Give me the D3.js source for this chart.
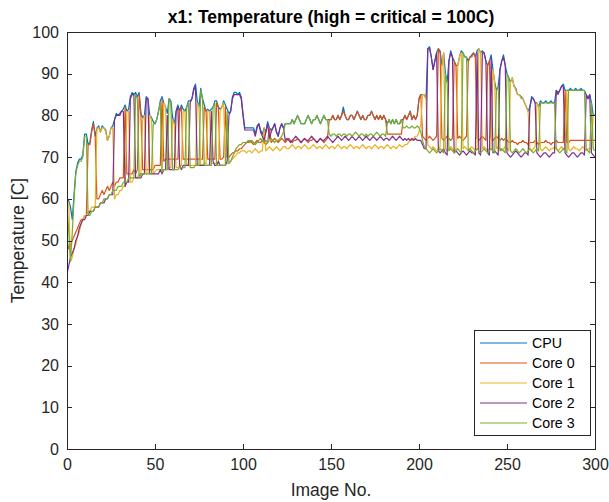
<!DOCTYPE html>
<html>
<head>
<meta charset="utf-8">
<script src="https://cdn.jsdelivr.net/npm/d3@7"></script>
<style>
  html, body { margin: 0; padding: 0; background: #fff; }
  svg { display: block; font-family: 'Liberation Sans', Arial, Helvetica, sans-serif; }
</style>
</head>
<body>
<svg id="chart" width="609" height="502"></svg>
<script>
// one reading per image, images 0..300
const imageNo = d3.range(0, 301);

const cpu = [
  60,59.5,58,55,61,66.5,68.5,69.5,69.5,70.5,
  75.5,75.5,73,73.5,76.5,78.5,75,77,77.5,76,
  77.5,77,76.5,74,75,77,77.5,79,80.5,80,
  80.5,81,81.5,82.5,81,81.5,84.5,85.5,85,85.5,
  84.5,85.5,80.5,79.5,80,84.5,84,80,79.5,78.5,
  78,79,81,83.5,84.5,83,82,80.5,84,83.5,
  79.5,78,81,82.5,81,82.5,81.5,81,82,83.5,
  83.5,84,86.5,87.5,83.5,82,86.5,84,82.5,81,
  81.5,81,81.5,82,83.5,83.5,82,81.5,82,83.5,
  82.5,81.5,80.5,81,84.5,85.5,85.5,85,85.5,84.5,
  80.5,77,77,77,77,77,77,75.5,77.5,78,
  76.5,75.5,77,76,78.5,77,76.5,77,78,76,
  75,77,78,77,78,78,78,78,79,78,
  79,80,79,78,78,78,79,80,79,78,
  79,79,80,79,78,79,80,79,79,79,
  79,80,79,79,80,79,80,82,80,79,
  79,80,80,79,80,81,80,79,80,79,
  79,80,80,81,80,79,80,79,80,79,
  80,79,78,79,78,79,78,79,78,78,
  79,79,80,79,80,81,79,80,79,80,
  84,85,85,85,84,96,96.5,94,91,93,
  95,96,95.5,92,95,90,88,93,95.5,94,
  93,92,92,94,95.5,95,94,94,93,94,
  94.5,95,94,95.5,96,95,95.5,95,93,92,
  93,94.5,91,88,86,87,91,93,94.5,92,
  90,89,88,89,87,86.5,85,85,84.5,84,
  83,82,81,82,84.5,84,83,83,82,83.5,
  83,83,83.5,83,83,83.5,83,83,86,85.5,
  86,87,87.5,86,86,86,86.5,86,86,86.5,
  86,86,86.5,86,86,85,84,85,83,80,
  80
];

const core0 = [
  50,48,49,50,51,52,53,54,55,55,
  56,56,73,73,76,78,75,60,60,61,
  62,61,62,63,62,63,64,63,64,64,
  65,65,65,82,66,66,66,66,67,66,
  67,85,80,67,67,67,67,67,67,67,
  68,68,68,68,84,69,69.5,69.5,69.5,69.5,
  69.5,69.5,69.5,69.5,81,82,69.5,69.5,69.5,69.5,
  69.5,69.5,69.5,69.5,69.5,69.5,69.5,69.5,82,81,
  69.5,69.5,69.5,69.5,69.5,83,82,69.5,69.5,70,
  82,70,70,70.5,71,71,71.5,71.5,72,72,
  72.5,73,73.5,73.5,74,73.5,73,73.5,74,73.5,
  73.5,74,73.5,73,73.5,77,73.5,74,74.5,74,
  73.5,74,74.5,74,73.5,74,74.5,74,73.5,74,
  74,74.5,74,73.5,74,74.5,74,73.5,74,74,
  74.5,74,73.5,74,74.5,74,73.5,74,74.5,79,
  79,80,79,79,80,79,80,81,80,79,
  79,80,80,79,80,81,80,79,80,79,
  79,80,80,81,80,79,80,79,80,79,
  80,79,75.5,75.5,75.5,75.5,75.5,75.5,75.5,75.5,
  75.5,79,80,79,80,81,79,80,79,80,
  84,85,75,74.5,74,74.5,75,74.5,74,74.5,
  75,96,95,74.5,74,74.5,75,74.5,74,74.5,
  93,92,74.5,75,74.5,74,74.5,75,93,94,
  94,95,94,74.5,74,74.5,75,74.5,74,92,
  93,74.5,74,74.5,75,74.5,74,74.5,74,74.5,
  74,73.5,73.5,74,73.5,73.5,73,73.5,73.5,74,
  73.5,73.5,73,73.5,73.5,73.5,74,73.5,73,73.5,
  73.5,73.5,74,73.5,73.5,73,73.5,73.5,74,73.5,
  73.5,73.5,73.5,86,73.5,73.5,74,74,74,74,
  74,74,74,74,74,74,74,74,74,74,
  74
];

const core1 = [
  59,59,45,46,48,49,51,52,54,55,
  56,56,57,57,58,58,58,77,77,76,
  77,77,76,74,75,77,77,60,61,61,
  62,62,63,63,81,81,64,64,65,65,
  65,66,66,79,80,66,66,80,79,66,
  66.5,67,67,67,67,83,82,67,67.5,67.5,
  79,78,67.5,67.5,68,68,81,81,68,68,
  68,68,68,68,83,82,68,68,68.5,68.5,
  81,81,68.5,68.5,68.5,68.5,68.5,81,82,83,
  68.5,68.5,68.5,69,69.5,70,70.5,71,71,71.5,
  71.5,71.5,71,71.5,71.5,71,71.5,72,71.5,71,
  71.5,71.5,77,71.5,72,72.5,72,71.5,72,72.5,
  72,71.5,72,72.5,72.5,72,72,72.5,73,72.5,
  72,72.5,72.5,72,72.5,73,72.5,72,72,72.5,
  73,72.5,72,72.5,72.5,72,72.5,73,72.5,72,
  72.5,72.5,72,72.5,73,72.5,72,72.5,72.5,72,
  72.5,73,72.5,72,72.5,72.5,72,72.5,73,72.5,
  72,72.5,72.5,72,72.5,73,72.5,72,72.5,72.5,
  72,72.5,73,72.5,72,72.5,72.5,72,72.5,73,
  72.5,72.5,73,73,73.5,74,74,74.5,75,75,
  76,78,85,85,84,73,72.5,72,72.5,72,
  71.5,72,72.5,92,95,72,71.5,72,72.5,72,
  71.5,72,92,94,95,72,72.5,72,71.5,72,
  72.5,72,71.5,72,96,95,72,72.5,72,71.5,
  72,72,91,88,72,72.5,72,71.5,72,72.5,
  72,71.5,88,89,87,86,85,85,84,84,
  83,82,81,72,71.5,72,72.5,83,82,72,
  71.5,72,72.5,72,71.5,72,72,72.5,72,71.5,
  72,72.5,72,72,86,72,71.5,72,72.5,72,
  72,71.5,72,72.5,72,71.5,72,72,72,80,
  80
];

const core2 = [
  42,44,46,47,48,50,51,53,54,55,
  55,56,56,57,57,57,58,58,58,59,
  59,59,60,60,61,61,61,79,80,80,
  80,81,81,63,64,64,84,85,85,65,
  65,65,65,66,66,84,84,66,66,66,
  66,66,66,67,66,67,67,80,67,67,
  67,67,81,82,68,67,68,68,68,68,
  83,84,86,87,68,68,68,68,68,68,
  68,68,81,69,68,68,69,68,68,68,
  68,69,80,81,84,85,85,85,85,84,
  80,76.5,76.5,76.5,76.5,76.5,76.5,75,77,78,
  76,75,74,76,78,74.5,76,77,78,76,
  75,77,78,77,74,74.5,74,73.5,74,74.5,
  75,74.5,74,73.5,74,74.5,74,74,74.5,75,
  74.5,74,73.5,74,74.5,74,74,74.5,75,74.5,
  74,73.5,74,74.5,75,74.5,74,74.5,75,74.5,
  74,74.5,75,74.5,74,74.5,75,74.5,74,74.5,
  75,74.5,74,74.5,75,74.5,74,74.5,75,74.5,
  74,74.5,74.5,74,74.5,75,74.5,74,74.5,75,
  74.5,74,74.5,74,74.5,74,74.5,74,74.5,74,
  74,74,73,72,72,96,96,94,91,93,
  95,71.5,71,71.5,72,71,70.5,93,95,94,
  71,71.5,71,70.5,71,71.5,71,70.5,71,71.5,
  71,71,70.5,95,71,70.5,95,95,93,71,
  70.5,94,71,71.5,71,70.5,91,93,94,92,
  71,70.5,70,70.5,71,71.5,71,70.5,70,70.5,
  71,71,70.5,82,84,84,83,71,70.5,70,
  70.5,71,71,70.5,70,70.5,71,71,86,85,
  86,87,87,71,70.5,70,70.5,71,71,70.5,
  70,70.5,71,71,70.5,85,84,85,71,70.5,
  70
];

const core3 = [
  58,52,45,52,60,66,68,69,69,70,
  75,75,56,56,57,57,58,58,58,59,
  59,60,60,60,61,61,62,62,62,63,
  63,63,64,64,64,65,65,65,65,85,
  84,65,66,66,66,66,66,66,66,78,
  78,79,81,83,66.5,67,67,67,84,83,
  67,67,67,67,67.5,67.5,67.5,67.5,82,83,
  67.5,67.5,67.5,68,68,68,86,84,68,68,
  68,68,68,82,83,68,68,68,68,68,
  68,81,68.5,69,70,71,72,72.5,73,73,
  73.5,73.5,73.5,74,73.5,74,73.5,73,73.5,74,
  74.5,74,73.5,74,73.5,74,74.5,74,73.5,74,
  74,74.5,75,76,78,78,78,78,79,78,
  79,80,79,78,78,78,79,80,79,78,
  79,79,80,79,78,79,80,79,79,75.5,
  75,75.5,75.5,75,75.5,75.5,75,75.5,75.5,75,
  75.5,75.5,75,75.5,76,75.5,75,75.5,75.5,75,
  75.5,75,75.5,75.5,75,75.5,76,75.5,75,75.5,
  75.5,75,78,79,78,79,78,79,78,78,
  79,77,77,77.5,77,77,77.5,77,77,77.5,
  77,76,74,72.5,72,71.5,71,71.5,72,71.5,
  71,71.5,72,71.5,71,90,88,71.5,72,71.5,
  71,71.5,72,71.5,71,95,94,94,71.5,72,
  71.5,71,71.5,72,71.5,71,71.5,72,71.5,71,
  71.5,72,71.5,71,86,87,71.5,72,71.5,71,
  90,89,71.5,71,71.5,72,71.5,71,71.5,72,
  71.5,71,71.5,72,71.5,71,71.5,72,71.5,83,
  83,83,83,83,83,83,83,83,72,71.5,
  71,71.5,72,71.5,71,86,86,86,86,86,
  86,86,86,86,86,72,71.5,71,83,72,
  71.5
];

const seriesNames = ['CPU', 'Core 0', 'Core 1', 'Core 2', 'Core 3'];
const seriesColors = ['#0072BD', '#D95319', '#EDB120', '#7E2F8E', '#77AC30'];
const xTicks = [0, 50, 100, 150, 200, 250, 300];
const yTicks = [0, 10, 20, 30, 40, 50, 60, 70, 80, 90, 100];

const W = 609, H = 502;
const box = { left: 67, right: 595, top: 32, bottom: 449 };
const axisColor = '#262626';

const x = d3.scaleLinear().domain([0, 300]).range([box.left, box.right]);
const y = d3.scaleLinear().domain([0, 100]).range([box.bottom, box.top]);

const svg = d3.select('#chart');
svg.append('rect').attr('width', W).attr('height', H).attr('fill', '#fff');

svg.append('clipPath').attr('id', 'plot-clip')
  .append('rect')
    .attr('x', box.left).attr('y', box.top)
    .attr('width', box.right - box.left).attr('height', box.bottom - box.top);

const line = d3.line()
  .x((d, i) => x(imageNo[i]))
  .y(d => y(d));

const series = [cpu, core0, core1, core2, core3];

svg.append('g')
    .attr('clip-path', 'url(#plot-clip)')
  .selectAll('path')
  .data(series)
  .join('path')
    .attr('fill', 'none')
    .attr('stroke', (d, i) => seriesColors[i])
    .attr('stroke-width', 1.2)
    .attr('stroke-linejoin', 'round')
    .attr('d', line);

// MATLAB-style box: ticks point inwards on all four sides
function styleAxis(g, labels) {
  g.attr('font-family', null).attr('font-size', null);
  g.select('.domain')
    .attr('stroke', axisColor)
    .attr('stroke-width', 1)
    .attr('shape-rendering', 'crispEdges');
  g.selectAll('.tick line')
    .attr('stroke', axisColor)
    .attr('shape-rendering', 'crispEdges');
  g.selectAll('.tick text')
    .attr('fill', axisColor)
    .attr('font-size', '16px')
    .style('display', labels ? null : 'none');
}

svg.append('g')
  .attr('transform', `translate(0,${box.bottom})`)
  .call(d3.axisBottom(x).tickValues(xTicks).tickSizeInner(-5).tickSizeOuter(0).tickPadding(10))
  .call(g => styleAxis(g, true));

svg.append('g')
  .attr('transform', `translate(0,${box.top})`)
  .call(d3.axisTop(x).tickValues(xTicks).tickSizeInner(-5).tickSizeOuter(0))
  .call(g => styleAxis(g, false));

svg.append('g')
  .attr('transform', `translate(${box.left},0)`)
  .call(d3.axisLeft(y).tickValues(yTicks).tickSizeInner(-5).tickSizeOuter(0).tickPadding(8))
  .call(g => styleAxis(g, true));

svg.append('g')
  .attr('transform', `translate(${box.right},0)`)
  .call(d3.axisRight(y).tickValues(yTicks).tickSizeInner(-5).tickSizeOuter(0))
  .call(g => styleAxis(g, false));

svg.append('text')
  .attr('x', (box.left + box.right) / 2)
  .attr('y', 23)
  .attr('text-anchor', 'middle')
  .attr('font-size', '17.5px')
  .attr('font-weight', 'bold')
  .attr('fill', '#000')
  .text('x1: Temperature (high = critical = 100C)');

svg.append('text')
  .attr('x', (box.left + box.right) / 2)
  .attr('y', 496)
  .attr('text-anchor', 'middle')
  .attr('font-size', '17.5px')
  .attr('fill', axisColor)
  .text('Image No.');

svg.append('text')
  .attr('transform', `translate(24,${(box.top + box.bottom) / 2}) rotate(-90)`)
  .attr('text-anchor', 'middle')
  .attr('font-size', '17.5px')
  .attr('fill', axisColor)
  .text('Temperature [C]');

// legend, lower right corner
const legend = svg.append('g');
legend.append('rect')
  .attr('x', 474.5).attr('y', 330.5)
  .attr('width', 116).attr('height', 105)
  .attr('fill', '#fff')
  .attr('stroke', axisColor)
  .attr('stroke-width', 1);

const item = legend.selectAll('g.item')
  .data(seriesNames)
  .join('g')
    .attr('class', 'item')
    .attr('transform', (d, i) => `translate(0,${343 + i * 20})`);

item.append('line')
  .attr('x1', 480).attr('x2', 527)
  .attr('stroke', (d, i) => seriesColors[i])
  .attr('stroke-width', 1.2);

item.append('text')
  .attr('x', 532)
  .attr('dy', '0.35em')
  .attr('font-size', '14.2px')
  .attr('fill', '#000')
  .text(d => d);
</script>
</body>
</html>
